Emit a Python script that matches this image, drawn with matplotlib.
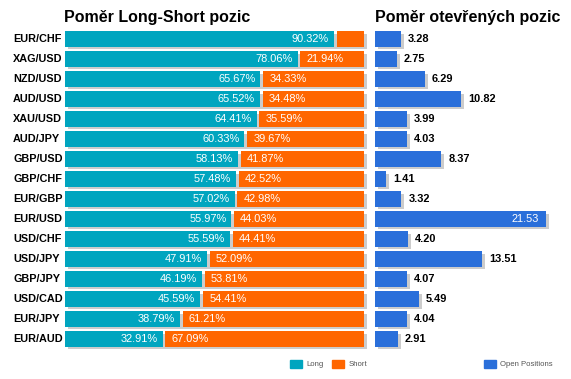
import matplotlib
matplotlib.use("Agg")
import matplotlib.pyplot as plt
from matplotlib.patches import Patch
from matplotlib.transforms import offset_copy, blended_transform_factory

plt.rcParams['font.family'] = ['Liberation Sans', 'DejaVu Sans']

pairs = ["EUR/CHF", "XAG/USD", "NZD/USD", "AUD/USD", "XAU/USD", "AUD/JPY", "GBP/USD",
         "GBP/CHF", "EUR/GBP", "EUR/USD", "USD/CHF", "USD/JPY", "GBP/JPY", "USD/CAD",
         "EUR/JPY", "EUR/AUD"]
long_pct = [90.32, 78.06, 65.67, 65.52, 64.41, 60.33, 58.13, 57.48, 57.02, 55.97, 55.59,
            47.91, 46.19, 45.59, 38.79, 32.91]
short_pct = [9.68, 21.94, 34.33, 34.48, 35.59, 39.67, 41.87, 42.52, 42.98, 44.03, 44.41,
             52.09, 53.81, 54.41, 61.21, 67.09]
open_pos = [3.28, 2.75, 6.29, 10.82, 3.99, 4.03, 8.37, 1.41, 3.32, 21.53, 4.20, 13.51,
            4.07, 5.49, 4.04, 2.91]

TEAL = "#00A5BF"
ORANGE = "#FF6600"
BLUE = "#2A6FDA"
SHADOW = "#CCCCCC"

W, H = 571, 379
fig = plt.figure(figsize=(W / 100, H / 100), dpi=100)

top_px, bot_px = 29, 349
axL = fig.add_axes([65 / W, 1 - bot_px / H, (364 - 65) / W, (bot_px - top_px) / H])
axR = fig.add_axes([375 / W, 1 - bot_px / H, (560 - 375) / W, (bot_px - top_px) / H])

n = len(pairs)
ys = list(range(n))
bh = 0.78
sdy = 0.13

for ax in (axL, axR):
    ax.set_ylim(n - 0.5, -0.5)
    ax.axis("off")

axL.set_xlim(0, 100)
axR.set_xlim(0, 185 / 7.93)

# left panel
total = [l + s for l, s in zip(long_pct, short_pct)]
axL.barh([y + sdy for y in ys], total, left=1.1, height=bh, color=SHADOW, clip_on=False, zorder=1)
axL.barh(ys, [l - 0.3 for l in long_pct], height=bh, color=TEAL, zorder=2, clip_on=False)
axL.barh(ys, [s - 0.6 for s in short_pct], left=[l + 0.6 for l in long_pct], height=bh,
         color=ORANGE, zorder=2, clip_on=False)

tL_left = offset_copy(axL.transData, fig=fig, x=-6, y=0, units='dots')
tL_right = offset_copy(axL.transData, fig=fig, x=6, y=0, units='dots')
for y, l, s in zip(ys, long_pct, short_pct):
    axL.text(l, y, f"{l:.2f}%", transform=tL_left, ha="right", va="center",
             color="white", fontsize=7.9, zorder=3)
    if s >= 15:
        axL.text(l + 0.6, y, f"{s:.2f}%", transform=tL_right, ha="left", va="center",
                 color="white", fontsize=7.9, zorder=3)

# category labels
lab_tr = blended_transform_factory(fig.transFigure, axL.transData)
for y, p in zip(ys, pairs):
    axL.text(13 / W, y, p, transform=lab_tr, ha="left", va="center",
             fontsize=7.8, fontweight="bold", color="black")

# right panel
sdx = 3 / 7.93
axR.barh([y + sdy for y in ys], open_pos, left=sdx, height=bh, color=SHADOW, zorder=1, clip_on=False)
axR.barh(ys, open_pos, height=bh, color=BLUE, zorder=2, clip_on=False)
xmax = axR.get_xlim()[1]
tR_in = offset_copy(axR.transData, fig=fig, x=-7, y=0, units='dots')
tR_out = offset_copy(axR.transData, fig=fig, x=7, y=0, units='dots')
for y, v in zip(ys, open_pos):
    if v > 0.85 * xmax:
        axR.text(v, y, f"{v:.2f}", transform=tR_in, ha="right", va="center",
                 color="white", fontsize=7.9, zorder=3)
    else:
        axR.text(v, y, f"{v:.2f}", transform=tR_out, ha="left", va="center",
                 color="black", fontsize=7.9, fontweight="bold", zorder=3)

# titles
fig.text(64 / W, 1 - 22 / H, "Poměr Long-Short pozic", ha="left", va="baseline",
         fontsize=11.5, fontweight="bold", color="black")
fig.text(375 / W, 1 - 22 / H, "Poměr otevřených pozic", ha="left", va="baseline",
         fontsize=11.5, fontweight="bold", color="black")

# legends
fs = 5.6
fpx = fs * 100 / 72
common = dict(frameon=False, fontsize=fs, handlelength=12 / fpx, handleheight=10 / fpx,
              handletextpad=4 / fpx, borderpad=0, borderaxespad=0, labelcolor="#555555")
leg1 = fig.legend(handles=[Patch(color=TEAL, label="Long"), Patch(color=ORANGE, label="Short")],
                  ncol=2, columnspacing=9 / fpx, loc="center left",
                  bbox_to_anchor=(290 / W, 1 - 364 / H), **common)
leg2 = fig.legend(handles=[Patch(color=BLUE, label="Open Positions")],
                  loc="center left", bbox_to_anchor=(484 / W, 1 - 364 / H), **common)

fig.savefig("out.png", dpi=100)
